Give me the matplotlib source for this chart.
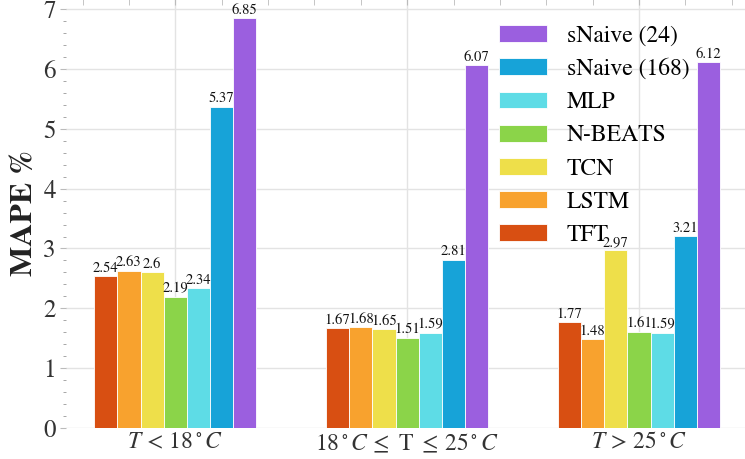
import matplotlib
matplotlib.use("Agg")
import matplotlib.pyplot as plt
import numpy as np
from matplotlib.ticker import MultipleLocator

plt.rcParams['font.family'] = ['STIXGeneral', 'DejaVu Serif']
plt.rcParams['mathtext.fontset'] = 'stix'

groups = [r'$T\,<\,18^\circ C$', r'$18^\circ C\,\leq$ T $\leq\,25^\circ C$', r'$T\,>\,25^\circ C$']
models = ['TFT', 'LSTM', 'TCN', 'N-BEATS', 'MLP', 'sNaive (168)', 'sNaive (24)']
colors = ['#d84f12', '#f8a22e', '#eedf4a', '#8bd449', '#5edce6', '#17a3d8', '#9b5fdf']
mape = {
    'TFT': [2.54, 1.67, 1.77],
    'LSTM': [2.63, 1.68, 1.48],
    'TCN': [2.6, 1.65, 2.97],
    'N-BEATS': [2.19, 1.51, 1.61],
    'MLP': [2.34, 1.59, 1.59],
    'sNaive (168)': [5.37, 2.81, 3.21],
    'sNaive (24)': [6.85, 6.07, 6.12],
}

fig = plt.figure(figsize=(7.45, 4.59), dpi=100)
ax = fig.add_axes([0.089, 0.068, 0.915, 0.935])

x = np.arange(len(groups))
w = 0.1
for i, (m, c) in enumerate(zip(models, colors)):
    bars = ax.bar(x + (i - 3) * w, mape[m], w, color=c, edgecolor='white',
                  linewidth=0.6, label=m, zorder=2)
    ax.bar_label(bars, labels=[f'{v:g}' for v in mape[m]], padding=1,
                 fontsize=10.5, color='#111111')

ax.set_xlim(-0.47, 2.47)
ax.set_ylim(0, 7.18)
ax.set_xticks(x)
ax.set_xticklabels(groups, fontsize=17, color='#333333')
ax.xaxis.set_minor_locator(MultipleLocator(0.2))
ax.yaxis.set_major_locator(MultipleLocator(1))
ax.yaxis.set_minor_locator(MultipleLocator(0.2))
ax.tick_params(axis='y', which='major', labelsize=18, labelcolor='#333333',
               length=4, color='#bbbbbb')
ax.tick_params(axis='y', which='minor', length=2, color='#999999')
ax.tick_params(axis='x', which='both', bottom=False, top=True, length=4,
               color='#bbbbbb', direction='in')
ax.tick_params(axis='x', which='major', pad=3)

for s in ax.spines.values():
    s.set_visible(False)
ax.grid(True, which='major', color='#e3e3e3', linewidth=1.0, zorder=0)
ax.set_axisbelow(True)

ax.set_ylabel('MAPE %', fontsize=23, fontweight='bold', color='#222222', labelpad=4)

handles, labels = ax.get_legend_handles_labels()
ax.legend(handles[::-1], labels[::-1], loc='upper left', bbox_to_anchor=(0.604, 0.988),
          frameon=False, fontsize=17, handlelength=2.0, handleheight=0.72,
          labelspacing=0.49, handletextpad=0.85)

fig.savefig('out.png', dpi=100)
